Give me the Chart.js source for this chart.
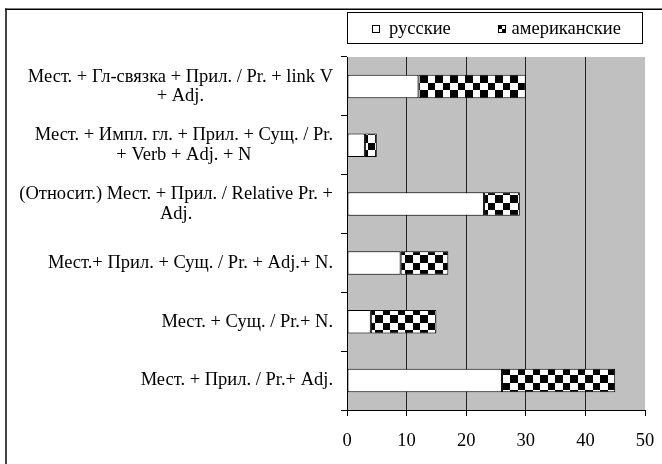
<!DOCTYPE html>
<html>
<head>
<meta charset="utf-8">
<script src="https://cdn.jsdelivr.net/npm/chart.js@4"></script>
<style>
html,body{margin:0;padding:0;background:#fff;}
canvas{display:block;}
</style>
</head>
<body>
<canvas id="c" width="662" height="464"></canvas>
<script>
const categories = [
  ["Мест. + Гл-связка + Прил. / Pr. + link V", "+ Adj."],
  ["Мест. + Импл. гл. + Прил. + Сущ. / Pr.", "+ Verb + Adj. + N"],
  ["(Относит.) Мест. + Прил. / Relative Pr. +", "Adj."],
  ["Мест.+ Прил. + Сущ. / Pr. + Adj.+ N."],
  ["Мест. + Сущ. / Pr.+ N."],
  ["Мест. + Прил. / Pr.+ Adj."]
];
const seriesNames = ["русские", "американские"];
const russian = [12, 3, 23, 9, 4, 26];
const american = [18, 2, 6, 8, 11, 19];
const xTicks = [0, 10, 20, 30, 40, 50];

const FONT = '"Liberation Serif", "Times New Roman", serif';
const LABEL_SIZE = 18.5;
const LEGEND_SIZE = 18.5;
const TICK_SIZE = 18.5;

function makeChecker() {
  const t = document.createElement('canvas');
  t.width = 15; t.height = 15;
  const g = t.getContext('2d');
  g.fillStyle = '#fff'; g.fillRect(0, 0, 15, 15);
  g.fillStyle = '#000';
  g.fillRect(0, 0, 8, 8);
  g.fillRect(8, 8, 7, 7);
  return document.getElementById('c').getContext('2d').createPattern(t, 'repeat');
}
const checker = makeChecker();

const decor = {
  id: 'decor',
  beforeDraw(chart) {
    const { ctx, chartArea: a } = chart;
    ctx.save();
    ctx.fillStyle = '#fff';
    ctx.fillRect(0, 0, chart.width, chart.height);
    ctx.fillStyle = '#c0c0c0';
    ctx.fillRect(a.left, a.top, a.right - a.left, a.bottom - a.top);
    ctx.restore();
  },
  afterDraw(chart) {
    const { ctx } = chart;
    ctx.save();
    // outer frame
    ctx.strokeStyle = '#444'; ctx.lineWidth = 2;
    ctx.beginPath(); ctx.moveTo(6, 8.5); ctx.lineTo(6, 464); ctx.stroke();
    ctx.strokeStyle = '#000'; ctx.lineWidth = 1.5;
    ctx.beginPath(); ctx.moveTo(5, 9.25); ctx.lineTo(662, 9.25); ctx.stroke();

    // category labels (centered block, right edge fixed)
    const ys = chart.scales.y;
    ctx.fillStyle = '#000';
    ctx.font = LABEL_SIZE + 'px ' + FONT;
    ctx.textBaseline = 'middle';
    ctx.textAlign = 'center';
    const lh = 19.5;
    const rightEdge = 333;
    chart.data.labels.forEach((lines, i) => {
      const cy = ys.getPixelForValue(i);
      const w = Math.max(...lines.map(l => ctx.measureText(l).width));
      const cx = rightEdge - w / 2;
      const y0 = cy - (lines.length - 1) * lh / 2;
      lines.forEach((l, k) => ctx.fillText(l, cx, y0 + k * lh));
    });

    // legend
    ctx.fillStyle = '#fff';
    ctx.fillRect(347.5, 12.5, 295, 31);
    ctx.strokeStyle = '#000'; ctx.lineWidth = 1;
    ctx.strokeRect(347.5, 12.5, 295, 31);
    ctx.font = LEGEND_SIZE + 'px ' + FONT;
    ctx.textAlign = 'left';
    ctx.textBaseline = 'alphabetic';
    // item 1
    ctx.fillStyle = '#fff';
    ctx.fillRect(372.5, 25.5, 7, 7);
    ctx.strokeRect(372.5, 25.5, 7, 7);
    ctx.fillStyle = '#000';
    ctx.fillText(seriesNames[0], 389, 34);
    // item 2
    ctx.fillStyle = '#000';
    ctx.fillRect(498, 25, 8, 8);
    ctx.fillStyle = '#fff';
    ctx.fillRect(502, 26, 3, 3);
    ctx.fillRect(499, 29, 3, 3);
    ctx.fillStyle = '#000';
    ctx.fillText(seriesNames[1], 511.5, 34);
    ctx.restore();
  }
};

new Chart(document.getElementById('c'), {
  type: 'bar',
  data: {
    labels: categories,
    datasets: [
      { label: seriesNames[0], data: russian, backgroundColor: '#fff', borderColor: '#000', borderWidth: 1, borderSkipped: false },
      { label: seriesNames[1], data: american, backgroundColor: checker, borderColor: '#000', borderWidth: 1, borderSkipped: false }
    ]
  },
  options: {
    indexAxis: 'y',
    responsive: false,
    animation: false,
    devicePixelRatio: 1,
    layout: { padding: { top: 57, right: 17, bottom: 0, left: 0 } },
    datasets: { bar: { categoryPercentage: 1, barPercentage: 0.4 } },
    plugins: { legend: { display: false }, tooltip: { enabled: false } },
    scales: {
      x: {
        stacked: true,
        min: 0, max: 50,
        afterBuildTicks(s) { s.ticks = xTicks.map(v => ({ value: v })); },
        afterFit(s) { s.height = 54; s.paddingLeft = 0; s.paddingRight = 0; },
        border: { display: true, color: '#000', width: 1 },
        grid: {
          color: c => (c.tick && (c.tick.value === 0 || c.tick.value === 50)) ? 'rgba(0,0,0,0)' : '#222',
          tickColor: '#000',
          lineWidth: 1,
          tickLength: 6,
          drawTicks: true
        },
        ticks: { color: '#000', font: { family: FONT, size: TICK_SIZE }, padding: 14.5, maxRotation: 0 }
      },
      y: {
        stacked: true,
        afterFit(s) { s.width = 347; },
        border: { display: true, color: '#000', width: 1 },
        grid: { offset: true, drawOnChartArea: false, drawTicks: true, tickLength: 6, tickColor: '#000', color: '#000' },
        ticks: { display: false }
      }
    }
  },
  plugins: [decor]
});
</script>
</body>
</html>
